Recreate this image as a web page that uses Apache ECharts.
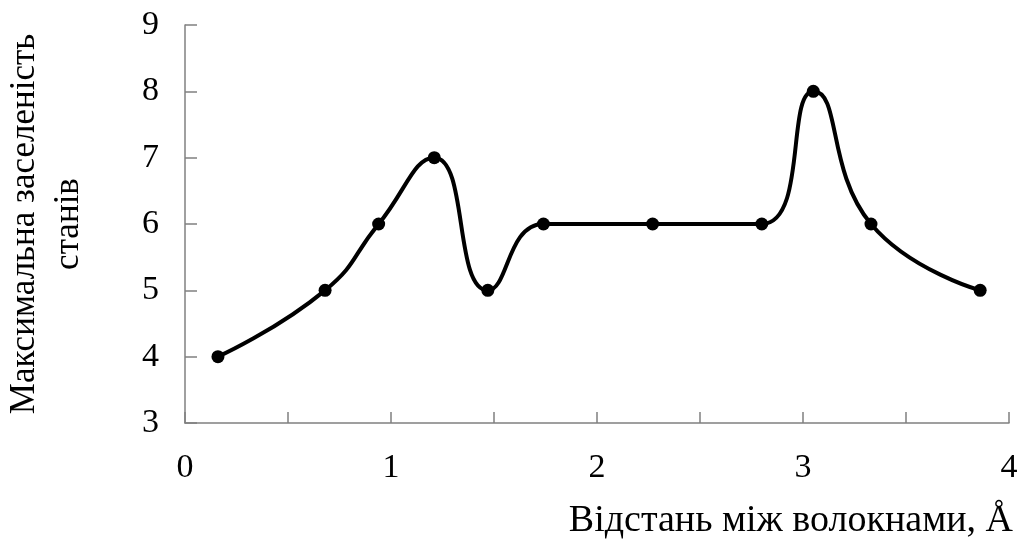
<!DOCTYPE html>
<html>
<head>
<meta charset="utf-8">
<script src="https://cdn.jsdelivr.net/npm/echarts@6/dist/echarts.min.js"></script>
<style>
  html, body { margin: 0; padding: 0; background: #fff; }
  #chart { width: 1021px; height: 542px; }
</style>
</head>
<body>
<div id="chart"></div>
<script>
// distance between fibres, Å
const distances = [0.16, 0.68, 0.94, 1.21, 1.47, 1.74, 2.27, 2.80, 3.05, 3.33, 3.86];
// max occupancy of states
const occupancy = [4, 5, 6, 7, 5, 6, 6, 6, 8, 6, 5];

const xTitle = 'Відстань між волокнами, Å';
const yTitle = 'Максимальна заселеність\nстанів';

const serif = '"Liberation Serif", "DejaVu Serif", serif';

let chart = echarts.init(document.getElementById('chart'));

let points = distances.map((d, i) => [d, occupancy[i]]);

chart.setOption({
    animation: false,
    grid: {
        left: 185,
        right: 12,
        top: 25,
        bottom: 119,
        outerBoundsMode: 'none'
    },
    xAxis: {
        type: 'value',
        min: 0,
        max: 4,
        interval: 0.5,
        name: xTitle,
        nameLocation: 'end',
        nameGap: 4,
        nameTextStyle: {
            fontFamily: serif,
            fontSize: 38,
            color: '#000',
            align: 'right',
            verticalAlign: 'top',
            padding: [79, 0, 0, 0]
        },
        axisLine: { lineStyle: { color: '#808080', width: 1.5 } },
        axisTick: { inside: true, length: 11, lineStyle: { color: '#808080', width: 1.5 } },
        splitLine: { show: false },
        axisLabel: {
            fontFamily: serif,
            fontSize: 34,
            color: '#000',
            margin: 28,
            formatter: v => (Number.isInteger(v) ? String(v) : '')
        }
    },
    yAxis: {
        type: 'value',
        min: 3,
        max: 9,
        interval: 1,
        name: yTitle,
        nameLocation: 'middle',
        nameRotate: 90,
        nameGap: 94,
        nameTextStyle: {
            fontFamily: serif,
            fontSize: 35,
            lineHeight: 44,
            color: '#000',
            align: 'center'
        },
        axisLine: { show: true, lineStyle: { color: '#808080', width: 1.5 } },
        axisTick: { show: true, inside: true, length: 12, lineStyle: { color: '#808080', width: 1.5 } },
        splitLine: { show: false },
        axisLabel: {
            fontFamily: serif,
            fontSize: 34,
            color: '#000',
            margin: 26
        }
    },
    series: [{
        type: 'line',
        data: points,
        smooth: 0.5,
        symbol: 'circle',
        symbolSize: 13,
        lineStyle: { color: '#000', width: 4 },
        itemStyle: { color: '#000' }
    }]
});
</script>
</body>
</html>
